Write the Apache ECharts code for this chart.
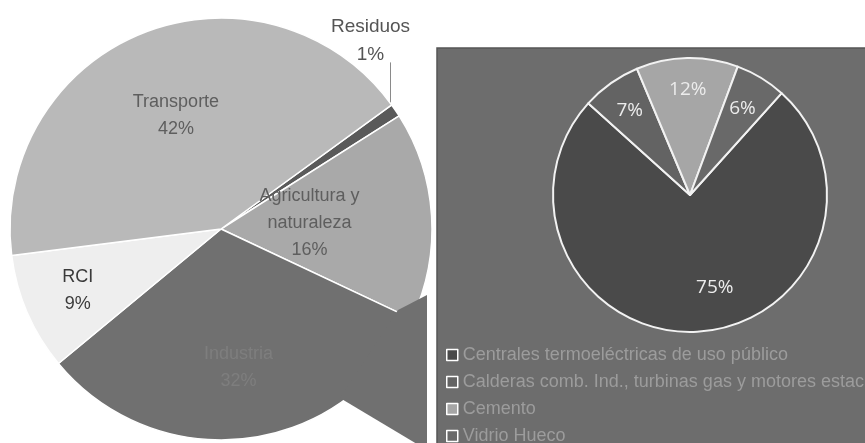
<!DOCTYPE html>
<html>
<head>
<meta charset="utf-8">
<script src="https://cdn.jsdelivr.net/npm/echarts@6/dist/echarts.min.js"></script>
<style>
  html, body { margin: 0; padding: 0; background: #ffffff; }
  #chart { width: 865px; height: 443px; }
</style>
</head>
<body>
<div id="chart"></div>
<script>
// ---- Data: main pie (GEI por sector) ----
const mainCategories = ['Residuos', 'Agricultura y naturaleza', 'Industria', 'RCI', 'Transporte'];
const mainLabels = ['Residuos', 'Agricultura y\nnaturaleza', 'Industria', 'RCI', 'Transporte'];
const mainValues = [1, 16, 32, 9, 42];

// ---- Data: secondary pie (desglose Industria) ----
const subCategories = [
  'Centrales termoeléctricas de uso público',
  'Calderas comb. Ind., turbinas gas y motores estacionarios',
  'Cemento',
  'Vidrio Hueco'
];
const subValues = [75, 7, 12, 6];

// ---- Styling ----
const mainColors = ['#5a5a5a', '#a9a9a9', '#707070', '#eeeeee', '#b9b9b9'];
const mainTextColors = ['#555555', '#5e5e5e', '#7e7e7e', '#3a3a3a', '#5e5e5e'];
const mainLabelFrac = [0, 0.42, 0.66, 0.74, 0.58];
const subColors = ['#4a4a4a', '#636363', '#a6a6a6', '#696969'];
const subLabelFrac = [0.70, 0.76, 0.77, 0.74];
const subLabelShift = [12, 0, 0, 0];

const MAIN = { cx: 221, cy: 229, r: 211, start: 36 };
const SUB = { cx: 690, cy: 195, r: 137, start: 48 };

function midAngles(values, start) {
  const total = values.reduce((a, b) => a + b, 0);
  let a = start;
  return values.map(v => {
    const span = v / total * 360;
    const mid = a - span / 2;
    a -= span;
    return mid;
  });
}
const mainMid = midAngles(mainValues, MAIN.start);
const subMid = midAngles(subValues, SUB.start);
function polar(g, angDeg, frac) {
  const t = angDeg * Math.PI / 180;
  return [g.cx + frac * g.r * Math.cos(t), g.cy - frac * g.r * Math.sin(t)];
}

const chart = echarts.init(document.getElementById('chart'), null, { renderer: 'canvas' });

const option = {
  backgroundColor: '#ffffff',
  animation: false,
  graphic: [
    {
      type: 'rect', z: 0,
      shape: { x: 437, y: 48, width: 440, height: 410 },
      style: { fill: '#6d6d6d', stroke: '#555555', lineWidth: 1.5 }
    },
    {
      type: 'polygon', z: 3,
      shape: { points: [[398, 310], [427, 295], [427, 450], [340, 398]] },
      style: { fill: '#707070' }
    }
  ],
  legend: {
    data: subCategories,
    orient: 'vertical',
    left: 441,
    top: 341,
    height: 160,
    width: 800,
    icon: 'rect',
    itemWidth: 11,
    itemHeight: 11,
    itemGap: 9,
    itemStyle: { borderColor: '#ffffff', borderWidth: 1.5 },
    textStyle: { color: '#9c9c9c', fontSize: 18, lineHeight: 18, fontFamily: 'Liberation Sans' },
    selectedMode: false
  },
  series: [
    {
      type: 'pie',
      z: 2,
      center: [MAIN.cx, MAIN.cy],
      radius: MAIN.r,
      startAngle: MAIN.start,
      clockwise: true,
      avoidLabelOverlap: false,
      percentPrecision: 0,
      itemStyle: { borderColor: '#ffffff', borderWidth: 1.5 },
      label: {
        position: 'inside',
        fontFamily: 'Liberation Sans',
        fontSize: 18,
        lineHeight: 27,
        align: 'center',
        formatter: p => mainLabels[p.dataIndex] + '\n' + p.percent + '%'
      },
      labelLine: { show: false },
      labelLayout: function (params) {
        const i = params.dataIndex;
        if (i === 0) {
          const pts = params.labelLinePoints;
          const e = pts ? pts[0] : polar(MAIN, mainMid[0], 1);
          const ex = e[0] - 5, ey = e[1] + 2;
          return {
            x: ex - 20, y: ey - 72, align: 'center', verticalAlign: 'middle',
            labelLinePoints: [[ex, ey], [ex, ey - 50], [ex, ey - 50]]
          };
        }
        const p = polar(MAIN, mainMid[i], mainLabelFrac[i]);
        return { x: p[0], y: p[1], align: 'center', verticalAlign: 'middle' };
      },
      data: mainValues.map((v, i) => ({
        value: v,
        name: mainCategories[i],
        itemStyle: { color: mainColors[i] },
        label: i === 0
          ? { position: 'outside', color: mainTextColors[i], lineHeight: 28, fontSize: 19 }
          : { color: mainTextColors[i] },
        labelLine: i === 0
          ? { show: true, length: 20, length2: 0, lineStyle: { color: '#8a8a8a', width: 1 } }
          : { show: false }
      }))
    },
    {
      type: 'pie',
      z: 2,
      center: [SUB.cx, SUB.cy],
      radius: SUB.r,
      startAngle: SUB.start,
      clockwise: true,
      avoidLabelOverlap: false,
      percentPrecision: 0,
      itemStyle: { borderColor: '#f2f2f2', borderWidth: 2 },
      label: {
        position: 'inside',
        fontFamily: 'Open Sans',
        fontSize: 19,
        color: '#ececec',
        formatter: '{d}%'
      },
      labelLine: { show: false },
      labelLayout: function (params) {
        const i = params.dataIndex;
        const p = polar(SUB, subMid[i] + subLabelShift[i], subLabelFrac[i]);
        return { x: p[0], y: p[1], align: 'center', verticalAlign: 'middle' };
      },
      data: subValues.map((v, i) => ({
        value: v,
        name: subCategories[i],
        itemStyle: { color: subColors[i] }
      }))
    }
  ]
};

chart.setOption(option);
</script>
</body>
</html>
